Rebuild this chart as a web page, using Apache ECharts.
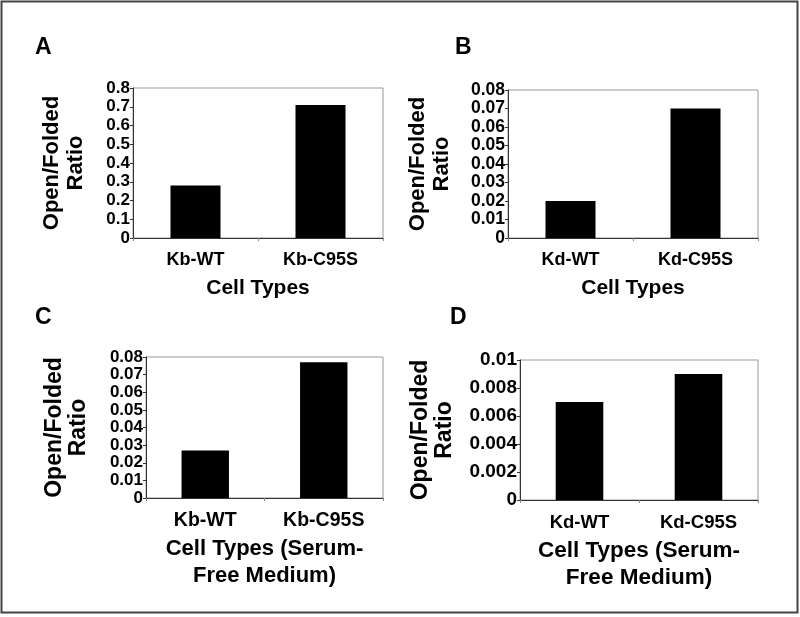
<!DOCTYPE html>
<html>
<head>
<meta charset="utf-8">
<script src="https://cdn.jsdelivr.net/npm/echarts@6/dist/echarts.min.js"></script>
<style>
html,body{margin:0;padding:0;background:#fff;}
#chart{width:800px;height:617px;}
</style>
</head>
<body>
<div id="chart"></div>
<script>
// ---- data ----
const panelLetters = ['A', 'B', 'C', 'D'];
const categoriesKb = ['Kb-WT', 'Kb-C95S'];
const categoriesKd = ['Kd-WT', 'Kd-C95S'];
const valuesA = [0.28, 0.71];
const valuesB = [0.02, 0.07];
const valuesC = [0.027, 0.077];
const valuesD = [0.007, 0.009];
const yMax = [0.8, 0.08, 0.08, 0.01];
const yInterval = [0.1, 0.01, 0.01, 0.002];
const yAxisTitle = 'Open/Folded\nRatio';
const xTitleAB = 'Cell Types';
const xTitleCD = 'Cell Types (Serum-\nFree Medium)';

// ---- layout ----
const FONT = '"Liberation Sans", Arial, sans-serif';
const grids = [
  {left: 133, right: 417, top: 88, bottom: 379},
  {left: 508, right: 42, top: 90, bottom: 379},
  {left: 146, right: 417, top: 357, bottom: 119},
  {left: 520, right: 42, top: 360, bottom: 117}
];
const yNameGaps = [45, 54, 55, 63];
const letterPos = [[35, 36], [455, 36], [35, 306], [450, 306]];
const tickFont = [17, 17.5, 17, 19];
const catFont = [18, 18, 19.5, 18.5];
const yNameFont = [22, 22, 23, 23];
const xNameFont = [21, 21, 22, 22.5];

const panels = [
  {cats: categoriesKb, vals: valuesA, xname: xTitleAB},
  {cats: categoriesKd, vals: valuesB, xname: xTitleAB},
  {cats: categoriesKb, vals: valuesC, xname: xTitleCD},
  {cats: categoriesKd, vals: valuesD, xname: xTitleCD}
];

const option = {
  animation: false,
  backgroundColor: '#fff',
  title: panelLetters.map((t, i) => ({
    text: t, left: letterPos[i][0], top: letterPos[i][1], padding: 0,
    textStyle: {fontFamily: FONT, fontWeight: 'bold', fontSize: 23, color: '#000'}
  })),
  grid: grids.map(g => Object.assign({show: true, borderColor: '#999', borderWidth: 1, backgroundColor: 'transparent'}, g)),
  xAxis: panels.map((p, i) => ({
    type: 'category', gridIndex: i, data: p.cats,
    name: p.xname, nameLocation: 'middle', nameGap: 37,
    nameTextStyle: {fontFamily: FONT, fontWeight: 'bold', fontSize: xNameFont[i], color: '#000', lineHeight: 27},
    axisLine: {show: true, lineStyle: {color: '#333', width: 1}},
    axisTick: {show: true, length: 3, alignWithLabel: false, lineStyle: {color: '#888'}},
    axisLabel: {fontFamily: FONT, fontWeight: 'bold', fontSize: catFont[i], color: '#000', margin: 13},
    splitLine: {show: false}
  })),
  yAxis: panels.map((p, i) => ({
    type: 'value', gridIndex: i, min: 0, max: yMax[i], interval: yInterval[i],
    name: yAxisTitle, nameLocation: 'middle', nameGap: yNameGaps[i], nameRotate: 90,
    nameTextStyle: {fontFamily: FONT, fontWeight: 'bold', fontSize: yNameFont[i], color: '#000', lineHeight: 24, align: 'center'},
    axisLine: {show: true, lineStyle: {color: '#333', width: 1}},
    axisTick: {show: true, length: 3, lineStyle: {color: '#333'}},
    axisLabel: {fontFamily: FONT, fontWeight: 'bold', fontSize: tickFont[i], color: '#000', margin: 3},
    splitLine: {show: false}
  })),
  series: panels.map((p, i) => ({
    type: 'bar', xAxisIndex: i, yAxisIndex: i, data: p.vals,
    barWidth: '40%', itemStyle: {color: '#000'}
  })),
  graphic: [{
    type: 'rect', shape: {x: 1.5, y: 1.5, width: 796, height: 611},
    style: {fill: 'none', stroke: '#444', lineWidth: 2}, silent: true
  }]
};

const chart = echarts.init(document.getElementById('chart'), null, {renderer: 'canvas'});
chart.setOption(option);
</script>
</body>
</html>
